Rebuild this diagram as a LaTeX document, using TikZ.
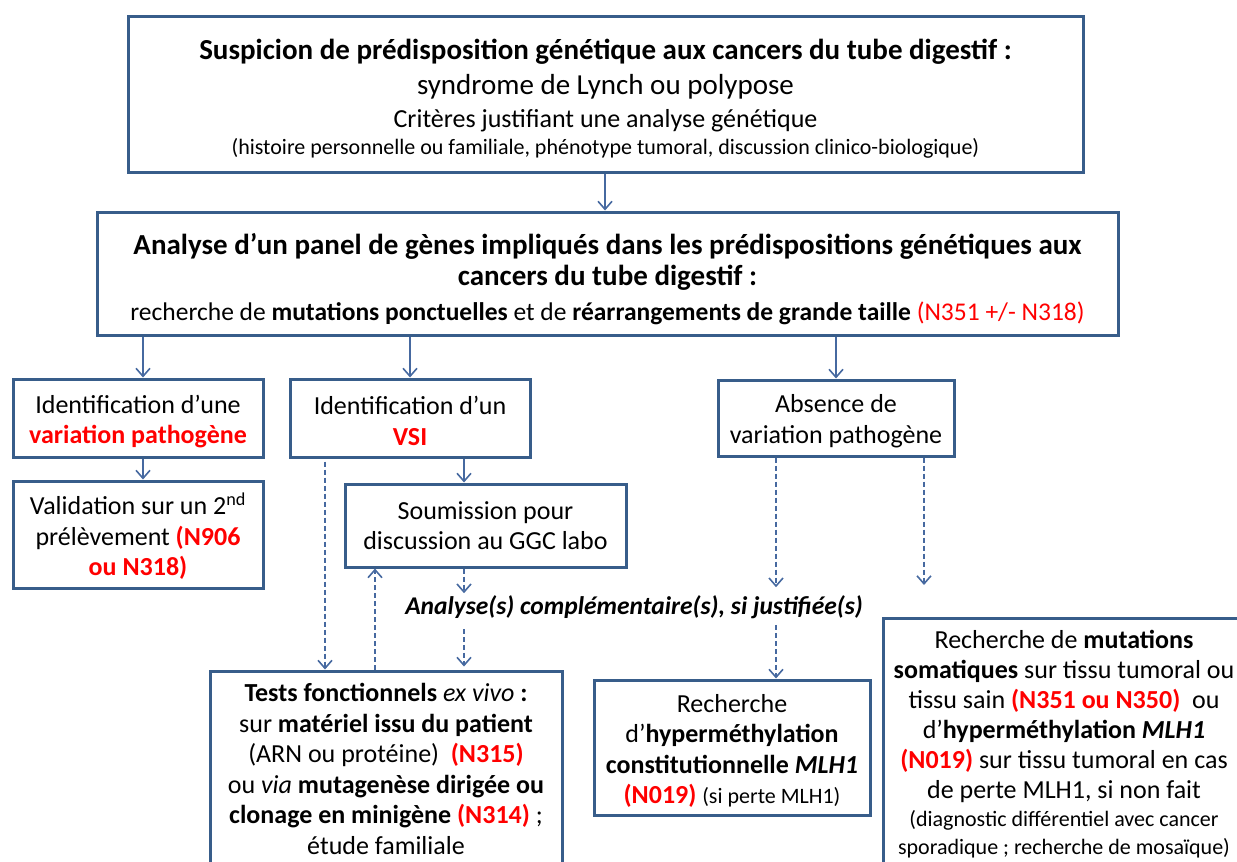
\documentclass[tikz,border=0pt]{standalone}
\usepackage{fontspec}
\setmainfont{Carlito}
\usetikzlibrary{arrows.meta, positioning}
\definecolor{boxblue}{RGB}{56,93,138}
\definecolor{arrblue}{RGB}{70,105,160}
\definecolor{redtxt}{RGB}{255,0,0}
\newcommand{\rtxt}[1]{\textcolor{redtxt}{#1}}
\newcommand{\fs}[2]{\fontsize{#1}{#2}\selectfont}
\newcommand{\pushdown}[1]{\rule{0pt}{#1}}

\begin{document}
\begin{tikzpicture}[x=1pt, y=-1pt, >={Straight Barb[length=8pt,width=14pt]},
    box/.style={draw=boxblue, line width=3pt, align=center, inner sep=0pt, font=\fs{26}{30.5}},
    arr/.style={->, draw=arrblue, line width=1.6pt},
    darr/.style={arr, dash pattern=on 5pt off 3pt}]
  \clip (0,0) rectangle (1237,862);

  % top of the chart
  \node[box, minimum width=955pt, minimum height=156pt, font=\fs{26}{31}] (susp) at (605.5,94)
    {\pushdown{30pt}\fs{29}{31}\bfseries Suspicion de prédisposition génétique aux cancers du tube digestif :\\[4pt]
     \fs{29}{31}syndrome de Lynch ou polypose\\[2pt]
     \fs{26}{31}Critères justifiant une analyse génétique\\[-4pt]
     \fs{22}{28}(histoire personnelle ou familiale, phénotype tumoral, discussion clinico-biologique)};
  \node[box, minimum width=1021pt, minimum height=123pt, font=\fs{29}{31}] (panel) at (607.5,273.5)
    {\pushdown{32pt}\bfseries Analyse d’un panel de gènes impliqués dans les prédispositions génétiques aux\\
     \bfseries cancers du tube digestif :\\[4pt]
     \fs{25.5}{31}recherche de \textbf{mutations ponctuelles} et de \textbf{réarrangements de grande taille} \rtxt{(N351 +/- N318)}};

  % three outcomes
  \node[box, minimum width=250pt, minimum height=78pt] (idpath) at (138,418)
    {\pushdown{25pt}Identification d’une\\ \rtxt{\textbf{variation pathogène}}};
  \node[box, minimum width=250pt, minimum height=107pt] (valid) at (138,534.5)
    {\pushdown{25pt}Validation sur un 2\textsuperscript{nd}\\ prélèvement \rtxt{\textbf{(N906}}\\ \rtxt{\textbf{ou N318)}}};
  \node[box, minimum width=240pt, minimum height=78pt] (idvsi) at (410,418)
    {\pushdown{24pt}Identification d’un\\ \rtxt{\textbf{VSI}}};
  \node[box, minimum width=281pt, minimum height=83pt] (soum) at (485.5,525.5)
    {Soumission pour\\ discussion au GGC labo};
  \node[box, minimum width=236pt, minimum height=76pt] (absent) at (836,418)
    {\pushdown{24pt}Absence de\\ variation pathogène};

  % complementary analyses
  \node[inner sep=2pt, font=\fs{25.5}{30}\bfseries\itshape] (compl) at (634,607)
    {Analyse(s) complémentaire(s), si justifiée(s)};
  \node[box, minimum width=352pt, minimum height=196pt] (tests) at (386,769)
    {\textbf{Tests fonctionnels} \textit{ex vivo} \textbf{:}\\
     sur \textbf{matériel issu du patient}\\
     (ARN ou protéine)\ \ \rtxt{\textbf{(N315)}}\\
     ou \textit{via} \textbf{mutagenèse dirigée ou}\\
     \textbf{clonage en minigène} \rtxt{\textbf{(N314)}} ;\\
     étude familiale};
  \node[box, minimum width=276pt, minimum height=135pt] (rech1) at (732,747.5)
    {\pushdown{25pt}Recherche\\ d’\textbf{hyperméthylation}\\ \textbf{constitutionnelle \textit{MLH1}}\\
     \rtxt{\textbf{(N019)}} {\fs{22}{30}(si perte MLH1)}};
  \node[box, minimum width=362pt, minimum height=252pt, font=\fs{26}{30}] (rech2) at (1064,744)
    {Recherche de \textbf{mutations}\\ \textbf{somatiques} sur tissu tumoral ou\\
     tissu sain \rtxt{\textbf{(N351 ou N350)}}\ \ ou\\ d’\textbf{hyperméthylation \textit{MLH1}}\\
     \rtxt{\textbf{(N019)}} sur tissu tumoral en cas\\ de perte MLH1, si non fait\\[-2pt]
     \fs{22}{28}(diagnostic différentiel avec cancer\\[-2pt] \fs{22}{28}sporadique ; recherche de mosaïque)};
  \coordinate (endsom) at (924,585);

  % connectors
  \draw[arr] (susp.south -| 605,0) -- (panel.north -| 605,0);
  \draw[arr] (panel.south -| 143,0) -- (idpath.north -| 143,0);
  \draw[arr] (panel.south -| idvsi.north) -- (idvsi.north);
  \draw[arr] (panel.south -| absent.north) -- (absent.north);
  \draw[arr] (idpath.south -| 143,0) -- (valid.north -| 143,0);
  \draw[arr] (idvsi.south -| 464,0) -- (soum.north -| 464,0);
  \draw[darr, shorten <=3pt] (idvsi.south -| 325,0) -- (tests.north -| 325,0);
  \draw[darr] (tests.north -| 375,0) -- (soum.south -| 375,0);
  \draw[darr] (soum.south -| 464,0) -- (compl.north -| 464,0);
  \draw[darr, shorten <=8pt, shorten >=3pt] (compl.south -| 464,0) -- (tests.north -| 464,0);
  \draw[darr, shorten >=6pt] (absent.south -| 776,0) -- (compl.north -| 776,0);
  \draw[darr] (absent.south -| endsom) -- (endsom);
  \draw[darr, shorten <=4pt] (compl.south -| 776,0) -- (rech1.north -| 776,0);
\end{tikzpicture}
\end{document}
